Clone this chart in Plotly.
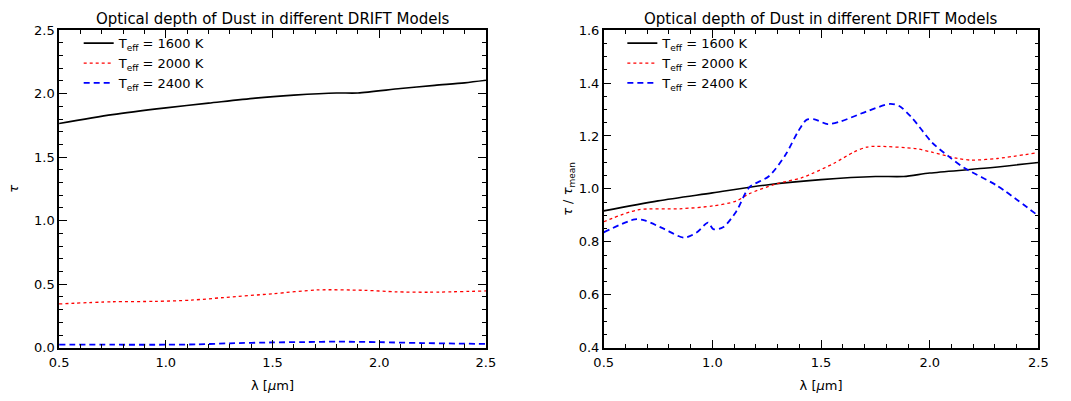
import plotly.graph_objects as go

# ---------------- data ----------------
SUB = '<span style="font-size:9px;baseline-shift:-3px">{}</span>'
series_names = ["T" + SUB.format("eff") + " = 1600 K",
                "T" + SUB.format("eff") + " = 2000 K",
                "T" + SUB.format("eff") + " = 2400 K"]

# Left panel: optical depth tau
lam_l_1600 = [0.5, 0.75, 1.0, 1.2, 1.42, 1.6, 1.8, 1.9, 2.1, 2.26, 2.4, 2.5]
tau_l_1600 = [1.765, 1.835, 1.888, 1.925, 1.965, 1.988, 2.005, 2.005, 2.04, 2.065, 2.085, 2.105]

lam_l_2000 = [0.5, 0.75, 0.95, 1.12, 1.27, 1.5, 1.71, 1.93, 2.08, 2.23, 2.5]
tau_l_2000 = [0.345, 0.362, 0.365, 0.375, 0.395, 0.425, 0.455, 0.452, 0.44, 0.437, 0.447]

lam_l_2400 = [0.5, 0.75, 1.0, 1.15, 1.3, 1.5, 1.65, 1.8, 2.0, 2.2, 2.5]
tau_l_2400 = [0.025, 0.024, 0.024, 0.027, 0.035, 0.042, 0.045, 0.048, 0.044, 0.037, 0.03]

# Right panel: tau / tau_mean
lam_r_1600 = [0.5, 0.75, 1.0, 1.25, 1.5, 1.75, 1.88, 2.0, 2.25, 2.5]
rel_r_1600 = [0.917, 0.955, 0.985, 1.015, 1.035, 1.047, 1.047, 1.06, 1.078, 1.10]

lam_r_2000 = [0.5, 0.658, 0.85, 1.004, 1.109, 1.17, 1.29, 1.41, 1.456, 1.56, 1.65, 1.71,
              1.756, 1.937, 2.01, 2.13, 2.19, 2.31, 2.49]
rel_r_2000 = [0.876, 0.921, 0.925, 0.936, 0.954, 0.982, 1.018, 1.042, 1.057, 1.097, 1.139, 1.158,
              1.161, 1.152, 1.139, 1.115, 1.109, 1.115, 1.136]

lam_r_2400 = [0.5, 0.643, 0.688, 0.78, 0.869, 0.929, 0.98, 1.004, 1.049, 1.11, 1.17, 1.26,
              1.335, 1.395, 1.433, 1.47, 1.53, 1.59, 1.71, 1.817, 1.86, 1.92, 2.01, 2.09,
              2.16, 2.31, 2.5]
rel_r_2400 = [0.836, 0.885, 0.881, 0.848, 0.816, 0.836, 0.873, 0.848, 0.855, 0.915, 1.006, 1.048,
              1.127, 1.218, 1.261, 1.263, 1.245, 1.255, 1.293, 1.321, 1.313, 1.267, 1.176, 1.121,
              1.079, 1.012, 0.898]

x_ticks = [0.5, 1.0, 1.5, 2.0, 2.5]
title_text = "Optical depth of Dust in different DRIFT Models"
x_title = "λ [<i>μ</i>m]"
y_title_left = "<i>τ</i>"
y_title_right = "<i>τ</i> / <i>τ</i>" + SUB.format("mean")

# ---------------- styling ----------------
FONT = "DejaVu Sans"
styles = [
    dict(color="black", width=1.6, dash="solid"),
    dict(color="red", width=1.3, dash="dot"),
    dict(color="blue", width=1.8, dash="6px,4px"),
]

fig = go.Figure()
left = [(lam_l_1600, tau_l_1600), (lam_l_2000, tau_l_2000), (lam_l_2400, tau_l_2400)]
right = [(lam_r_1600, rel_r_1600), (lam_r_2000, rel_r_2000), (lam_r_2400, rel_r_2400)]
for i, (x, y) in enumerate(left):
    fig.add_trace(go.Scatter(x=x, y=y, mode="lines", name=series_names[i],
                             line=dict(shape="spline", smoothing=0.8, **styles[i]),
                             xaxis="x", yaxis="y", legend="legend"))
for i, (x, y) in enumerate(right):
    fig.add_trace(go.Scatter(x=x, y=y, mode="lines", name=series_names[i],
                             line=dict(shape="spline", smoothing=0.8, **styles[i]),
                             xaxis="x2", yaxis="y2", legend="legend2"))

W, H = 1071, 401
def px(v):
    return v / W
def py(v):
    return 1 - v / H

lab_font = dict(family=FONT, size=13, color="black")
axis_common = dict(showline=True, linecolor="black", linewidth=1.5, mirror="ticks",
                   ticks="inside", ticklen=8, tickwidth=1, tickcolor="black",
                   showgrid=False, zeroline=False,
                   tickfont=dict(family=FONT, size=13, color="black"))
minor_x = dict(dtick=0.1, ticklen=4, tickcolor="black", ticks="inside", showgrid=False)

fig.update_layout(
    width=W, height=H,
    margin=dict(l=0, r=0, t=0, b=0),
    paper_bgcolor="white", plot_bgcolor="white",
    font=dict(family=FONT, color="black", size=13),
    xaxis=dict(domain=[px(50), px(485)], range=[0.5, 2.5], tickvals=x_ticks,
               tickformat=".1f", anchor="y", ticklabelstandoff=2,
               title=dict(text=x_title, font=lab_font, standoff=12),
               minor=minor_x, **axis_common),
    yaxis=dict(domain=[1 - 354 / H, 1 - 24 / H], range=[0, 2.5], dtick=0.5,
               tickformat=".1f", anchor="x",
               title=dict(text=y_title_left, font=lab_font, standoff=12),
               minor=dict(dtick=0.1, ticklen=4, tickcolor="black", ticks="inside", showgrid=False),
               **axis_common),
    xaxis2=dict(domain=[px(605), px(1048)], range=[0.5, 2.5], tickvals=x_ticks,
                tickformat=".1f", anchor="y2", ticklabelstandoff=2,
                title=dict(text=x_title, font=lab_font, standoff=12),
                minor=minor_x, **axis_common),
    yaxis2=dict(domain=[1 - 354 / H, 1 - 24 / H], range=[0.4, 1.6], dtick=0.2,
                tickformat=".1f", anchor="x2",
                title=dict(text=y_title_right, font=lab_font, standoff=3),
                minor=dict(dtick=0.05, ticklen=4, tickcolor="black", ticks="inside", showgrid=False),
                **axis_common),
    legend=dict(x=px(70), y=py(22), xanchor="left", yanchor="top",
                bgcolor="rgba(0,0,0,0)", borderwidth=0,
                font=dict(family=FONT, size=13, color="black"),
                tracegroupgap=0, itemwidth=30),
    legend2=dict(x=px(624), y=py(22), xanchor="left", yanchor="top",
                 bgcolor="rgba(0,0,0,0)", borderwidth=0,
                 font=dict(family=FONT, size=13, color="black"),
                 tracegroupgap=0, itemwidth=30),
    showlegend=True,
)

ann_font = dict(family=FONT, size=15, color="black")
annotations = [
    dict(text=title_text, x=0.5, y=py(12), xref="x domain", yref="paper",
         showarrow=False, font=ann_font, xanchor="center", yanchor="middle"),
    dict(text=title_text, x=0.5, y=py(12), xref="x2 domain", yref="paper",
         showarrow=False, font=ann_font, xanchor="center", yanchor="middle"),
]
fig.update_layout(annotations=annotations)

fig.write_html("out.html")
